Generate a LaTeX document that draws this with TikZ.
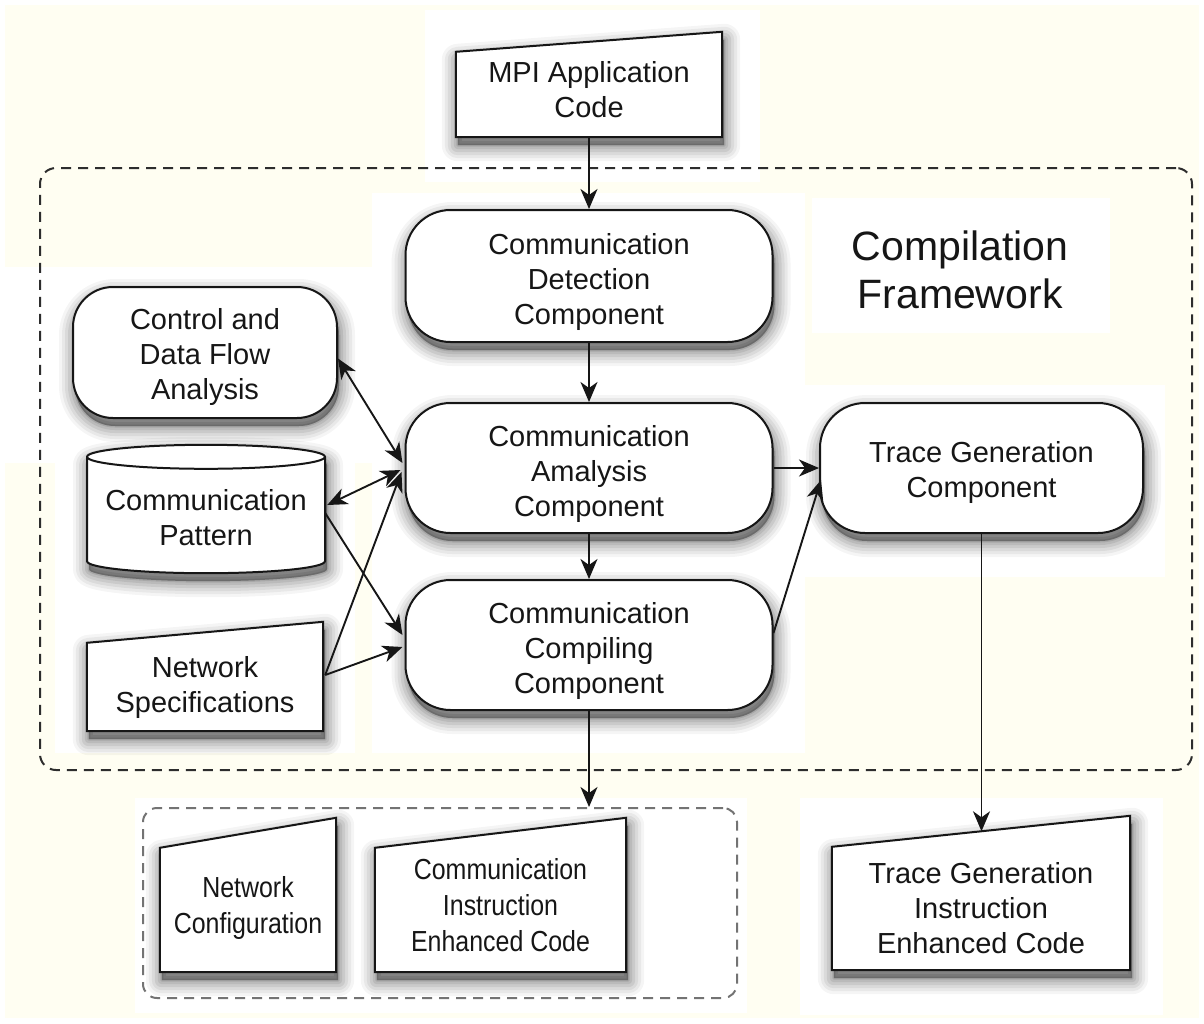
\documentclass[tikz,border=0pt]{standalone}
\usepackage{fontspec}
\setmainfont{Liberation Sans}
\newfontfamily\narrowsans[FakeStretch=0.86]{Liberation Sans}
\usetikzlibrary{arrows.meta,calc}
\definecolor{paper}{RGB}{255,254,242}
\definecolor{ink}{RGB}{22,22,22}
\pgfdeclarelayer{paperlayer}
\pgfdeclarelayer{shapelayer}
\pgfsetlayers{paperlayer,shapelayer,main}
% multi-line text whose block sits #1 lower than the node centre
\newcommand\dropped[2]{\raisebox{-#1}[\height][\depth]{\begin{tabular}{@{}c@{}}#2\end{tabular}}}
\tikzset{
  lbl/.style={font=\fontsize{29}{35}\selectfont, align=center, text=ink},
  narrow lbl/.style={font=\narrowsans\fontsize{29}{36}\selectfont, align=center, text=ink},
  shade ring/.style n args={2}{preaction={draw=black, fill=black, opacity=#1, line width=#2, line join=round,
      transform canvas={shift={(2pt,-8pt)}}}},
  soft/.style={shade ring={0.04}{32pt}, shade ring={0.05}{26pt}, shade ring={0.06}{20pt},
      shade ring={0.07}{14pt}, shade ring={0.08}{8pt}, shade ring={0.10}{3pt}},
  outline/.style={draw=ink, line width=2pt, fill=white},
  pill/.style={lbl, outline, soft, inner sep=0pt},
  body/.style={lbl, inner sep=0pt},
  flow/.style={line width=1.9pt, draw=ink, -{Stealth[length=20pt,width=17pt,inset=6pt]}},
  both/.style={line width=1.9pt, draw=ink, {Stealth[length=20pt,width=17pt,inset=6pt]}-{Stealth[length=20pt,width=17pt,inset=6pt]}},
  frame/.style={line width=2pt, dash pattern=on 10pt off 7pt, rounded corners=16pt, inner sep=0pt}
}
\begin{document}
\begin{tikzpicture}[x=1pt,y=-1pt]
\useasboundingbox (0,0) rectangle (1204,1023);

% paper with lighter panels
\begin{pgfonlayer}{paperlayer}
  \fill[white] (0,0) rectangle (1204,1023);
  \fill[paper] (5,5) rectangle (1199,1018);
  \fill[white] (425,10) rectangle (760,182);
  \fill[white] (372,193) rectangle (805,753);
  \fill[white] (812,198) rectangle (1110,333);
  \fill[white] (805,385) rectangle (1165,577);
  \fill[white] (5,267) rectangle (372,463);
  \fill[white] (55,463) rectangle (355,753);
  \fill[white] (135,798) rectangle (747,1013);
  \fill[white] (800,798) rectangle (1163,1015);
\end{pgfonlayer}

% dashed groups
\node[frame, draw=ink!90, minimum width=1152pt, minimum height=602pt] (fw) at (616,469) {};
\node[frame, draw=black!55, minimum width=594pt, minimum height=190pt, rounded corners=14pt] (outbox) at (440,903) {};
\node[lbl, font=\fontsize{41}{48}\selectfont] (cf) at (960,270) {Compilation\\Framework};

% rounded process boxes
\node[pill, rounded corners=45pt, minimum width=367pt, minimum height=132pt] (det) at (589,276)
  {\dropped{6pt}{Communication\\Detection\\Component}};
\node[pill, rounded corners=45pt, minimum width=367pt, minimum height=130pt] (ana) at (589,468)
  {\dropped{6pt}{Communication\\Amalysis\\Component}};
\node[pill, rounded corners=45pt, minimum width=367pt, minimum height=130pt] (cmp) at (589,645)
  {\dropped{6pt}{Communication\\Compiling\\Component}};
\node[pill, rounded corners=40pt, minimum width=264pt, minimum height=131pt] (cdf) at (205,352.5)
  {\dropped{5pt}{Control and\\Data Flow\\Analysis}};
\node[pill, rounded corners=45pt, minimum width=323pt, minimum height=130pt] (trace) at (981.5,468)
  {\dropped{5pt}{Trace Generation\\Component}};

% manual-input boxes and the pattern store
\node[body, minimum width=266pt, minimum height=85pt] (mpi) at (589,94.5)
  {\dropped{-2pt}{MPI Application\\Code}};
\node[body, minimum width=236pt, minimum height=88pt] (ns) at (205,687) {Network\\Specifications};
\node[body, narrow lbl, minimum width=176pt, minimum height=124pt] (nc) at (248,910)
  {\dropped{-2pt}{Network\\Configuration}};
\node[body, narrow lbl, minimum width=251pt, minimum height=124pt] (ciec) at (500.5,910)
  {\dropped{-1.5pt}{Communication\\Instruction\\Enhanced Code}};
\node[body, minimum width=298pt, minimum height=123pt] (tgi) at (981,908.5) {Trace Generation\\Instruction\\Enhanced Code};
\node[body, minimum width=238pt, minimum height=100pt] (pat) at (206,518) {Communication\\Pattern};

\coordinate (tgi-top) at ($(tgi.north)+(0,-15.5)$);
\coordinate (pt) at ($(pat.north)+(0,-11)$);
\coordinate (pb) at ($(pat.south)+(0,-7)$);

\begin{pgfonlayer}{shapelayer}
  \draw[outline, soft] (mpi.north west) -- ($(mpi.north east)+(0,-20)$) -- (mpi.south east) -- (mpi.south west) -- cycle;
  \draw[outline, soft] (ns.north west) -- ($(ns.north east)+(0,-21)$) -- (ns.south east) -- (ns.south west) -- cycle;
  \draw[outline, soft] (nc.north west) -- ($(nc.north east)+(0,-30)$) -- (nc.south east) -- (nc.south west) -- cycle;
  \draw[outline, soft] (ciec.north west) -- ($(ciec.north east)+(0,-30)$) -- (ciec.south east) -- (ciec.south west) -- cycle;
  \draw[outline, soft] (tgi.north west) -- ($(tgi.north east)+(0,-31)$) -- (tgi.south east) -- (tgi.south west) -- cycle;
  \draw[outline, soft] ($(pt)+(-119,0)$) -- ($(pb)+(-119,0)$)
      arc[start angle=180, end angle=360, x radius=119pt, y radius=12pt]
      -- ($(pt)+(119,0)$)
      arc[start angle=0, end angle=180, x radius=119pt, y radius=12pt] -- cycle;
  \draw[draw=ink, line width=2pt] ($(pt)+(119,0)$) arc[start angle=0, end angle=-180, x radius=119pt, y radius=12pt];
\end{pgfonlayer}

% connectors
\draw[flow] (mpi.south) -- (det.north);
\draw[flow] (det.south) -- (ana.north);
\draw[flow] (ana.south) -- (cmp.north);
\draw[flow] (cmp.south) -- (cmp.south |- outbox.north);
\draw[flow] (ana.east) -- (trace.west);
\draw[flow] ($(cmp.east)+(0,-12)$) -- ($(trace.west)+(2,12)$);
\draw[flow] (trace.south) -- (trace.south |- tgi-top);
\draw[both] ($(cdf.east)+(0,6)$) -- ($(ana.west)+(-2,-5)$);
\draw[both] ($(pat.east)+(2,-13)$) -- ($(ana.west)+(-4,2)$);
\draw[flow] ($(pat.east)+(0,-5)$) -- ($(cmp.west)+(-2,-10)$);
\draw[flow] ($(ns.east)+(2,-12)$) -- ($(ana.west)+(-3,4)$);
\draw[flow] ($(ns.east)+(2,-12)$) -- ($(cmp.west)+(-2,2)$);
\end{tikzpicture}
\end{document}
